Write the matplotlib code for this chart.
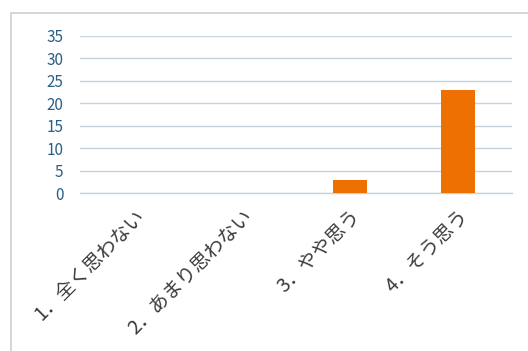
import matplotlib
matplotlib.use("Agg")
import matplotlib.pyplot as plt
from matplotlib.patches import Rectangle

plt.rcParams['font.family'] = ['Noto Sans CJK JP', 'DejaVu Sans']

categories = ["1．全く思わない", "2．あまり思わない", "3．やや思う", "4．そう思う"]
counts = [0, 0, 3, 23]
yticks = [0, 5, 10, 15, 20, 25, 30, 35]

W, H = 528, 351
fig = plt.figure(figsize=(W / 100, H / 100), dpi=100)

# outer chart frame
fig.patches.append(Rectangle((11 / W, -0.1), 1.2, 1 - 13 / H + 0.1,
                             transform=fig.transFigure, fill=False,
                             edgecolor="#c8cfd4", linewidth=1.2))

ax = fig.add_axes([80 / W, 1 - 193 / H, (512 - 80) / W, (193 - 36) / H])
x = range(len(categories))
ax.bar(x, counts, width=0.31, color="#ed7000", zorder=3)

ax.set_xlim(-0.5, len(categories) - 0.5)
ax.set_ylim(0, 35)
ax.set_yticks(yticks)
ax.set_yticklabels([str(v) for v in yticks], color="#2a5f86", fontsize=11)
ax.tick_params(axis="y", length=0, pad=12)
ax.tick_params(axis="x", length=0, pad=9)
ax.set_xticks(list(x))
ax.set_xticklabels(categories, rotation=45, ha="right", rotation_mode="anchor",
                   fontsize=14, color="#3a3a3a")
ax.grid(axis="y", color="#c5d3dc", linewidth=1.0, zorder=0)
for s in ["top", "right", "left"]:
    ax.spines[s].set_visible(False)
ax.spines["bottom"].set_color("#c5d3dc")
ax.spines["bottom"].set_linewidth(1.0)

fig.savefig("out.png", dpi=100)
